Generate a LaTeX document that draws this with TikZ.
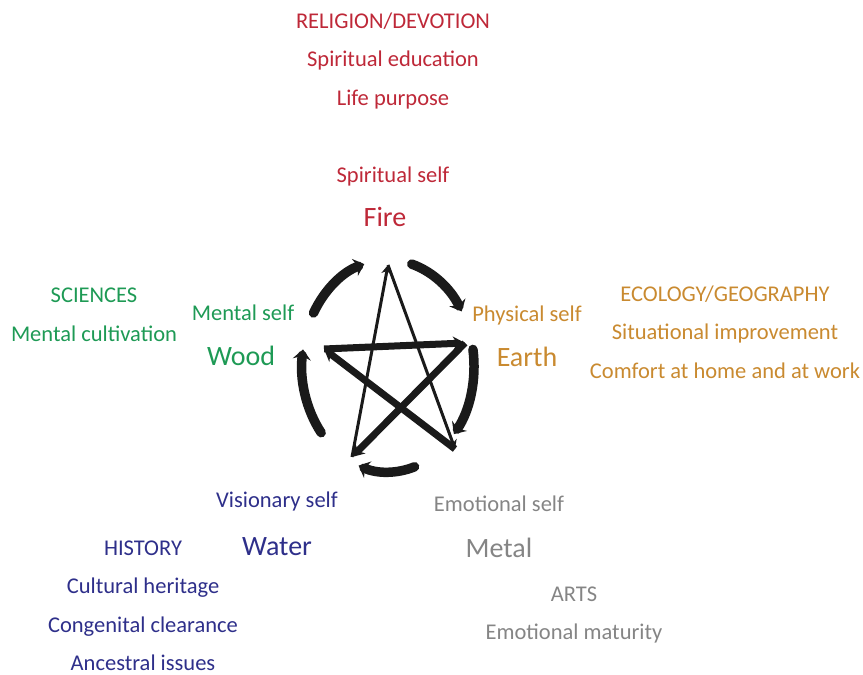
\documentclass[tikz,border=0pt]{standalone}
\usepackage{fontspec}
\setmainfont{Carlito}
\usepackage{tikz}
\usetikzlibrary{arrows.meta}
\definecolor{firec}{HTML}{BE2838}
\definecolor{woodc}{HTML}{1E9A55}
\definecolor{earthc}{HTML}{C98A30}
\definecolor{waterc}{HTML}{2E2F8A}
\definecolor{metalc}{HTML}{858585}
\definecolor{inkc}{HTML}{1A1A1A}
\tikzset{
  lbl/.style={font=\fontsize{22.5}{38.5}\selectfont,align=center,inner sep=0pt},
  elem/.style={font=\fontsize{28}{30}\selectfont,inner sep=0pt},
  ctrl/.style={-{Stealth[length=12pt,width=14pt]},line width=7pt,inkc},
  ctrlthin/.style={-{Stealth[length=9pt,width=10pt]},line width=3pt,inkc},
  gen/.style={-{Stealth[length=10pt,width=18pt]},line width=9.5pt,inkc,line cap=round}
}

\begin{document}
\begin{tikzpicture}[x=1pt,y=1pt]
\useasboundingbox (0,0) rectangle (863,675);
% the five elements
\coordinate (fire) at (388,410);
\coordinate (earth) at (465,332);
\coordinate (metal) at (455,226);
\coordinate (water) at (352,218);
\coordinate (wood) at (324,326);
\coordinate (c) at (388,309);
% generating cycle round the outside
\draw[gen] (c) ++(150:86 and 106) arc[start angle=150,end angle=106,x radius=86,y radius=106];
\draw[gen] (c) ++(74:86 and 106) arc[start angle=74,end angle=31,x radius=86,y radius=106];
\draw[gen] (c) ++(9:86 and 106) arc[start angle=9,end angle=-40,x radius=86,y radius=106];
\draw[gen] (c) ++(-72:86 and 106) arc[start angle=-72,end angle=-110,x radius=86,y radius=106];
\draw[gen] (c) ++(-141:86 and 106) arc[start angle=-141,end angle=-189,x radius=86,y radius=106];
% controlling cycle: the star
\draw[ctrl] (wood) -- (earth);
\draw[ctrl] (earth) -- (water);
\draw[ctrl] (metal) -- (wood);
\draw[ctrlthin] (water) -- (fire);
\draw[ctrlthin] (fire) -- (metal);
% labels
\node[lbl,firec] (religion) at (393,614) {RELIGION/DEVOTION\\Spiritual education\\Life purpose};
\node[lbl,firec] (fireself) at (393,498) {Spiritual self};
\node[elem,firec] (firelbl) at (385,458) {Fire};
\node[lbl,woodc] (sciences) at (94,360) {SCIENCES\\Mental cultivation};
\node[lbl,woodc] (woodself) at (243,362) {Mental self};
\node[elem,woodc] (woodlbl) at (241,319) {Wood};
\node[lbl,earthc] (ecology) at (725,343) {ECOLOGY/GEOGRAPHY\\Situational improvement\\Comfort at home and at work};
\node[lbl,earthc] (earthself) at (527,359) {Physical self};
\node[elem,earthc] (earthlbl) at (527,318) {Earth};
\node[lbl,waterc] (history) at (143,69) {HISTORY\\Cultural heritage\\Congenital clearance\\Ancestral issues};
\node[lbl,waterc] (waterself) at (277,173) {Visionary self};
\node[elem,waterc] (waterlbl) at (277,128) {Water};
\node[lbl,metalc] (arts) at (574,60) {ARTS\\Emotional maturity};
\node[lbl,metalc] (metalself) at (499,171) {Emotional self};
\node[elem,metalc] (metallbl) at (499,127) {Metal};
\end{tikzpicture}
\end{document}
